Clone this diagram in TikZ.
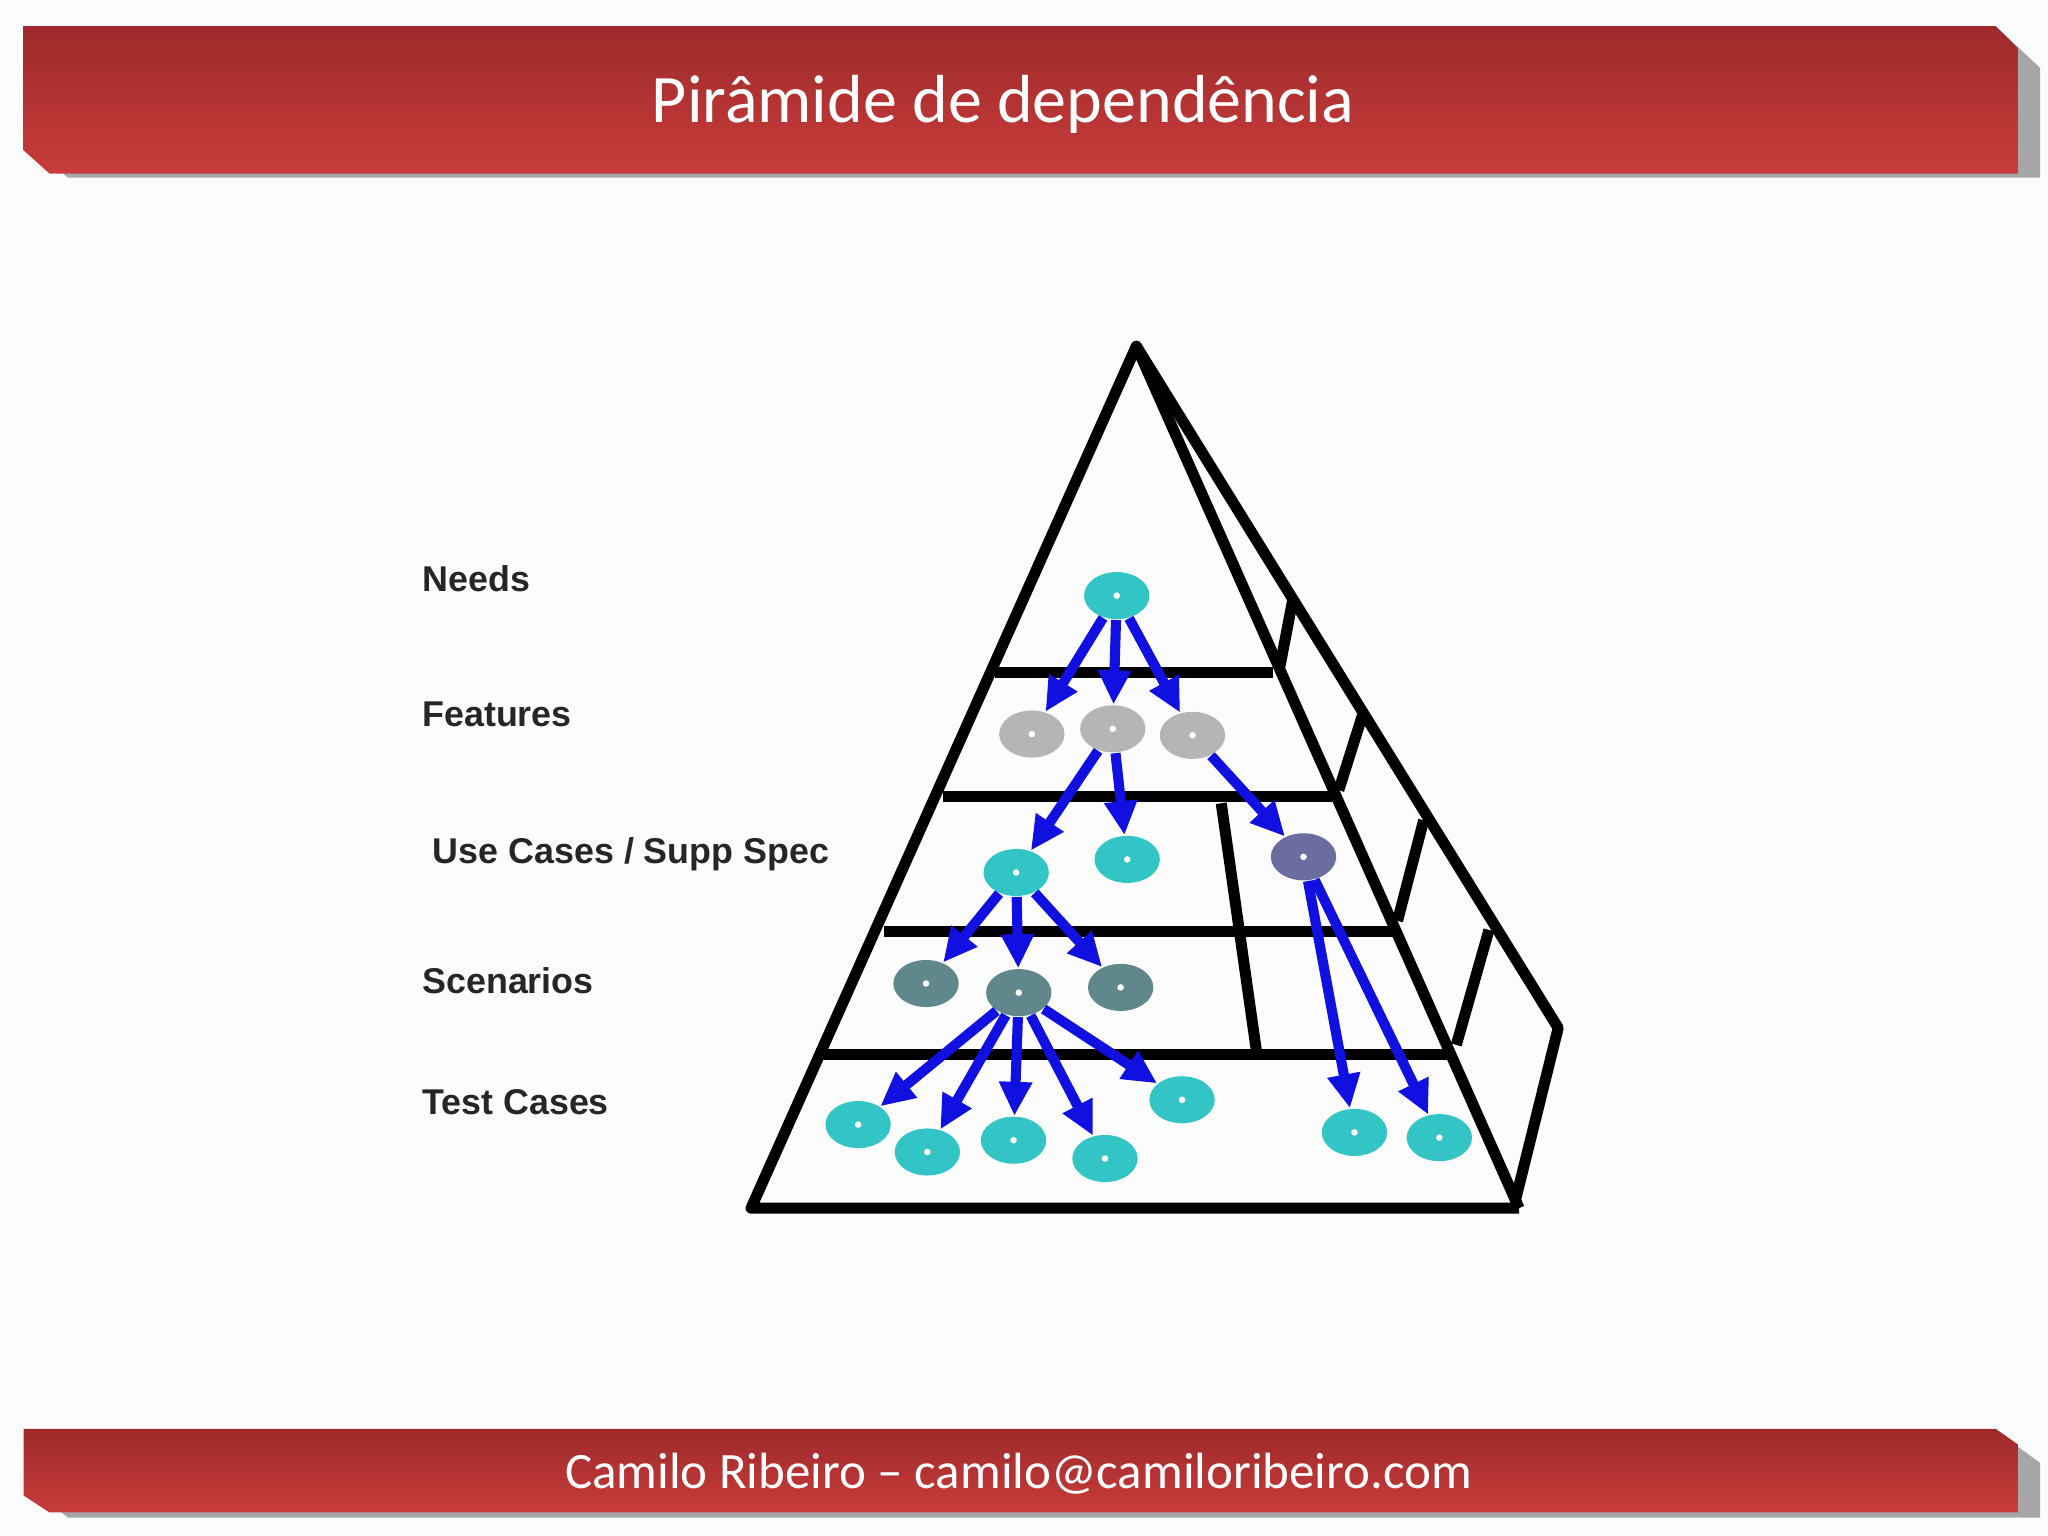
\documentclass[tikz,border=0pt]{standalone}
\usepackage{fontspec}
\setmainfont{Carlito}
\newfontfamily\arialb{Liberation Sans}
\usetikzlibrary{arrows.meta,shapes.geometric}
\definecolor{bannerA}{HTML}{9E2A2B}
\definecolor{bannerB}{HTML}{C83C3A}
\definecolor{cyanN}{HTML}{33C4C6}
\definecolor{grayN}{HTML}{B5B5B5}
\definecolor{slateN}{HTML}{6A6E9E}
\definecolor{tealN}{HTML}{5F878C}
\definecolor{arrowB}{HTML}{1010E0}
\tikzset{
 px/.style={x=0.01cm,y=-0.01cm},
 nd/.style={ellipse,minimum width=0.5cm,minimum height=0.36cm,inner sep=0pt,
   path picture={\fill[white] (path picture bounding box.center) circle (0.025cm);}},
 arr/.style={-{Triangle[length=0.26cm,width=0.24cm]},line width=2.2pt,arrowB},
 edge/.style={line width=2.4pt,black},
 lbl/.style={font=\arialb\bfseries\fontsize{7.8}{9}\selectfont,anchor=west,text=black!85},
}
\begin{document}
\begin{tikzpicture}[px]
\useasboundingbox (0,0) rectangle (1568,1176);
\fill[white!98!gray] (0,0) rectangle (1568,1176);
% top banner
\fill[gray!70] (1530,22) -- (1562,52) -- (1562,136) -- (52,136) -- (40,126) -- (1545,126) -- cycle;
\shade[top color=bannerA,bottom color=bannerB] (18,20) -- (1528,20) -- (1545,37) -- (1545,133) -- (38,133) -- (18,115) -- cycle;
\node[text=white,font=\fontsize{14.8}{18}\selectfont] (title) at (768,80) {Pirâmide de dependência};
% bottom banner
\fill[gray!70] (1530,1097) -- (1562,1120) -- (1562,1162) -- (52,1162) -- (40,1152) -- (1545,1152) -- cycle;
\shade[top color=bannerA,bottom color=bannerB] (18,1094) -- (1528,1094) -- (1545,1106) -- (1545,1158) -- (38,1158) -- (18,1145) -- cycle;
\node[text=white,font=\fontsize{11.1}{14}\selectfont] (foot) at (780,1128) {Camilo Ribeiro – camilo@camiloribeiro.com};
% pyramid
\coordinate (apex) at (870,265);
\coordinate (bl) at (575,925);
\coordinate (br) at (1163,925);
\coordinate (rb) at (1193,787);
\draw[edge,line join=round] (br) -- (bl) -- (apex) -- (br);
\draw[edge,line join=round] (apex) -- (rb) -- (1160,920);
\draw[edge] (762,515) -- (975,515);
\draw[edge] (722,610) -- (1020,610);
\draw[edge] (677,713) -- (1068,713);
\draw[edge] (630,807) -- (1110,807);
\draw[edge] (990,458) -- (980,510);
\draw[edge] (1043,548) -- (1025,605);
\draw[edge] (1090,628) -- (1070,705);
\draw[edge] (1140,712) -- (1115,800);
\draw[edge] (935,615) -- (962,805);
% labels
\node[lbl] (l1) at (311,443) {Needs};
\node[lbl] (l2) at (311,547) {Features};
\node[lbl] (l3) at (319,654) {Use Cases / Supp Spec};
\node[lbl] (l4) at (311,751) {Scenarios};
\node[lbl] (l5) at (311,844) {Test Cases};
% nodes
\node[nd,fill=cyanN] (N) at (855,456) {};
\node[nd,fill=grayN] (F1) at (790,562) {};
\node[nd,fill=grayN] (F2) at (852,558) {};
\node[nd,fill=grayN] (F3) at (913,563) {};
\node[nd,fill=cyanN] (U1) at (778,668) {};
\node[nd,fill=cyanN] (U2) at (863,658) {};
\node[nd,fill=slateN] (U3) at (998,656) {};
\node[nd,fill=tealN] (S1) at (709,753) {};
\node[nd,fill=tealN] (S2) at (780,760) {};
\node[nd,fill=tealN] (S3) at (858,756) {};
\node[nd,fill=cyanN] (T1) at (657,861) {};
\node[nd,fill=cyanN] (T2) at (710,882) {};
\node[nd,fill=cyanN] (T3) at (776,873) {};
\node[nd,fill=cyanN] (T4) at (846,887) {};
\node[nd,fill=cyanN] (T5) at (905,842) {};
\node[nd,fill=cyanN] (T6) at (1037,867) {};
\node[nd,fill=cyanN] (T7) at (1102,871) {};
% arrows
\foreach \a/\b in {N/F1,N/F2,N/F3,F2/U1,F2/U2,F3/U3,U1/S1,U1/S2,U1/S3,S2/T1,S2/T2,S2/T3,S2/T4,S2/T5,U3/T6,U3/T7}
  \draw[arr] (\a) -- (\b);
\end{tikzpicture}
\end{document}
